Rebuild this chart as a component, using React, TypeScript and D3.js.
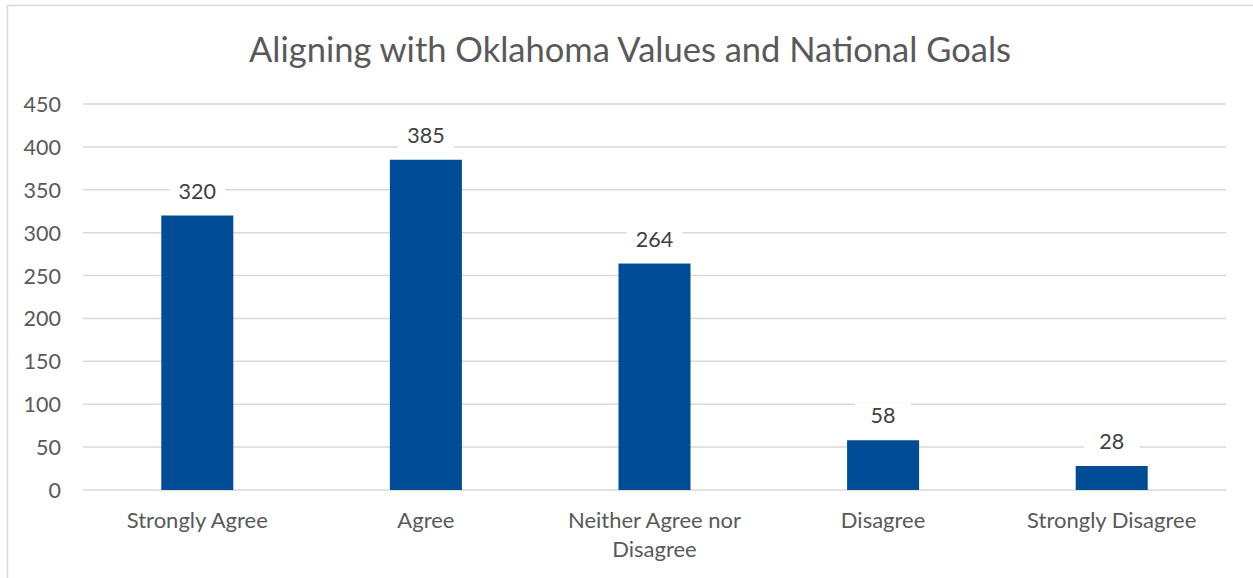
import React from "react";
import * as d3 from "d3";

const categories = ["Strongly Agree", "Agree", "Neither Agree nor Disagree", "Disagree", "Strongly Disagree"];
const categoryLines = [["Strongly Agree"], ["Agree"], ["Neither Agree nor", "Disagree"], ["Disagree"], ["Strongly Disagree"]];
const values = [320, 385, 264, 58, 28];
const yTicks = [0, 50, 100, 150, 200, 250, 300, 350, 400, 450];
const title = "Aligning with Oklahoma Values and National Goals";

const W = 1253, H = 578;
const left = 83, right = 1226, top = 104, bottom = 490;
const FONT = "Lato, 'Open Sans', sans-serif";
const TEXT = "#595959";
const BAR = "#004C97";

export default function App() {
  const x = d3.scaleBand().domain(categories).range([left, right]).paddingInner(0.685).paddingOuter(0.3425);
  const y = d3.scaleLinear().domain([0, 450]).range([bottom, top]);
  return (
    <svg width={W} height={H} style={{ position: "fixed", left: 0, top: 0, background: "#fff" }}>
      <rect x={7.5} y={5.5} width={W} height={H} fill="#fff" stroke="#d9d9d9" strokeWidth={1.5} />
      <text x={630} y={62} textAnchor="middle" fontFamily={FONT} fontSize={34.5} fill={TEXT}>{title}</text>
      {yTicks.map(t => (
        <g key={t}>
          <line x1={left} x2={right} y1={y(t)} y2={y(t)} stroke="#d9d9d9" strokeWidth={1.5} />
          <text x={61} y={y(t) + 8} textAnchor="end" fontFamily={FONT} fontSize={21.5} fill={TEXT}>{t}</text>
        </g>
      ))}
      {categories.map((c, i) => {
        const bx = x(c)!;
        const cx = bx + x.bandwidth() / 2;
        const label = String(values[i]);
        const ly = y(values[i]) - 17;
        return (
          <g key={c}>
            <rect x={bx} y={y(values[i])} width={x.bandwidth()} height={y(0) - y(values[i])} fill={BAR} />
            <rect x={cx - 28} y={ly - 20} width={56} height={28} fill="#fff" />
            <text x={cx} y={ly} textAnchor="middle" fontFamily={FONT} fontSize={21.5} fill="#404040">{label}</text>
            {categoryLines[i].map((ln, j) => (
              <text key={j} x={cx} y={528 + j * 29} textAnchor="middle" fontFamily={FONT} fontSize={22} fill={TEXT}>{ln}</text>
            ))}
          </g>
        );
      })}
    </svg>
  );
}
